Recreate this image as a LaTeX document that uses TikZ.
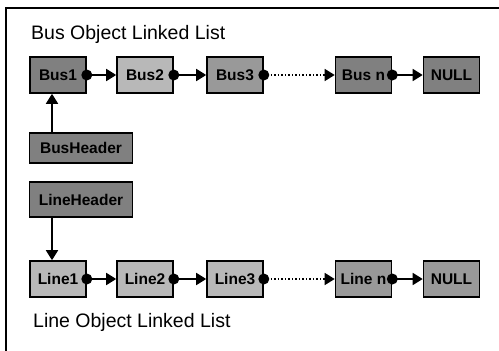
\documentclass[tikz,border=0pt]{standalone}
\usepackage{fontspec}
\setmainfont{Liberation Sans}
\usetikzlibrary{arrows.meta}
\definecolor{gdark}{gray}{0.50}
\definecolor{gmid}{gray}{0.60}
\definecolor{glight}{gray}{0.72}
\tikzset{
  obj/.style={draw=black, line width=1.6pt, minimum width=56pt, minimum height=36pt, inner sep=0pt,
    font=\fontsize{15.5}{15.5}\selectfont\bfseries},
  hdr/.style={obj, minimum width=103pt},
  link/.style={line width=1.8pt, -{Triangle[length=10pt,width=12pt]}},
  dlink/.style={line width=1.5pt, dotted, -{Triangle[length=10pt,width=12pt]}},
  knob/.style={fill=black},
  title/.style={font=\fontsize{19.5}{20}\selectfont, anchor=west, inner sep=0pt}
}
\begin{document}
\begin{tikzpicture}[x=1pt,y=-1pt]
\useasboundingbox (0,0) rectangle (499,351);
\draw[line width=1.6pt] (5,8) -- (499,8);
\draw[line width=1.6pt] (6,8) -- (6,351);
\node[title] (t1) at (31,34) {Bus Object Linked List};
\node[title] (t2) at (33,322) {Line Object Linked List};
% bus row
\node[obj, fill=gdark] (b1) at (58,75) {Bus1};
\node[obj, fill=glight] (b2) at (145,75) {Bus2};
\node[obj, fill=gmid] (b3) at (235,75) {Bus3};
\node[obj, fill=gdark] (bn) at (363.5,75) {Bus n};
\node[obj, fill=gdark] (bnull) at (451.5,75) {NULL};
\node[hdr, fill=gdark, minimum height=30pt] (bh) at (81,148) {BusHeader};
% line row
\node[hdr, fill=gdark, minimum height=35pt] (lh) at (81,199.5) {LineHeader};
\node[obj, fill=glight] (l1) at (58,279) {Line1};
\node[obj, fill=glight] (l2) at (145,279) {Line2};
\node[obj, fill=glight] (l3) at (235,279) {Line3};
\node[obj, fill=gmid] (ln) at (363.5,279) {Line n};
\node[obj, fill=gmid] (lnull) at (451.5,279) {NULL};
% links
\foreach \a/\b in {b1/b2,b2/b3,bn/bnull,l1/l2,l2/l3,ln/lnull}{
  \draw[link] (\a.east) -- (\b.west);
}
\draw[dlink] (b3.east) -- (bn.west);
\draw[dlink] (l3.east) -- (ln.west);
\foreach \a in {b1,b2,b3,bn,l1,l2,l3,ln}{
  \fill[knob] (\a.east) circle (5.5pt);
}
\draw[link] (bh.north -| 52,0) -- (b1.south -| 52,0);
\draw[link] (lh.south -| 52,0) -- (l1.north -| 52,0);
\end{tikzpicture}
\end{document}
